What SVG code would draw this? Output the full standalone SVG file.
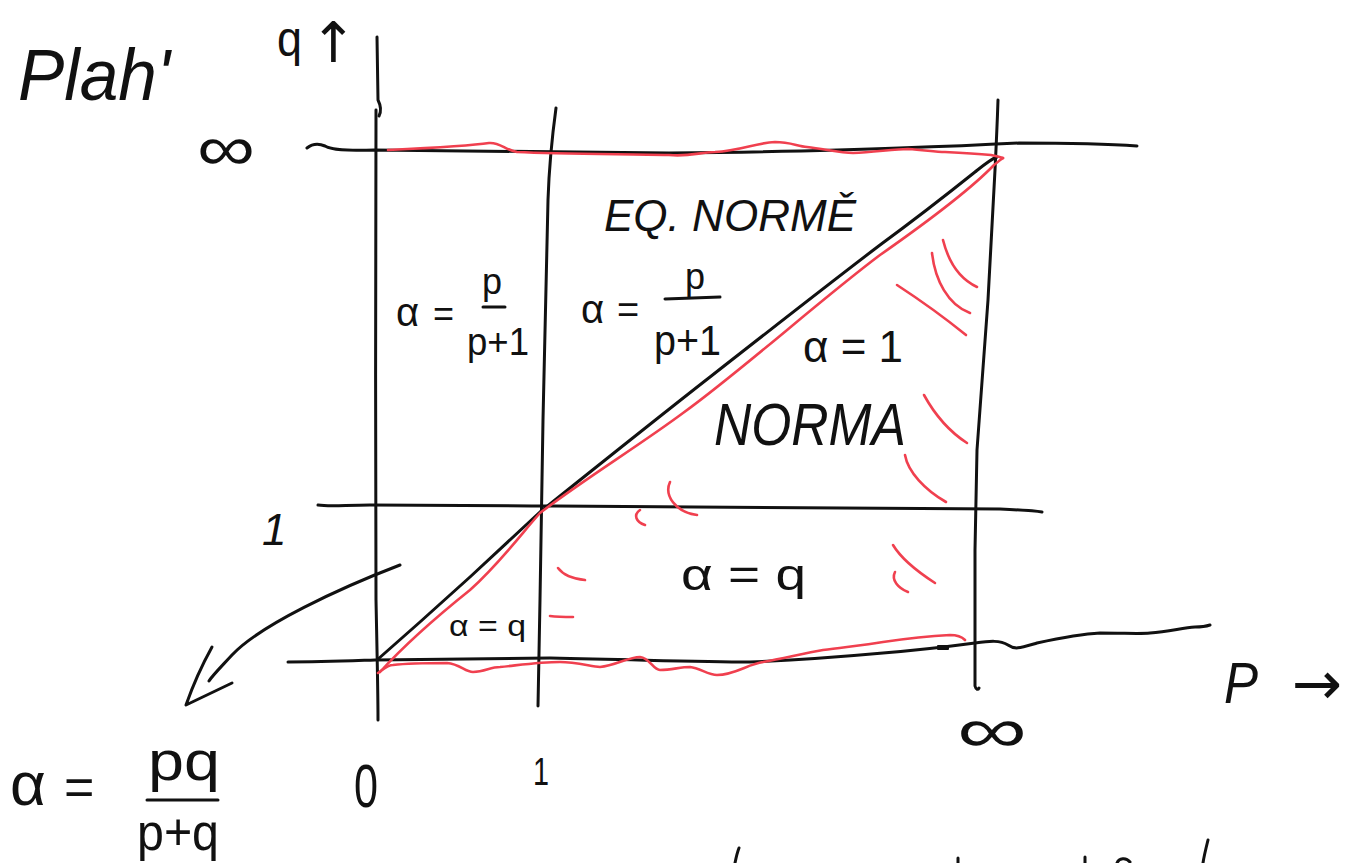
<svg xmlns="http://www.w3.org/2000/svg" width="1352" height="863" viewBox="0 0 1352 863">
<defs>
<style>
.ink{fill:none;stroke:#111;stroke-width:3;stroke-linecap:round;stroke-linejoin:round}
.red{fill:none;stroke:#f0404f;stroke-width:2.6;stroke-linecap:round;stroke-linejoin:round}
text{font-family:"Liberation Sans","DejaVu Sans",sans-serif;fill:#111}
.hw{font-style:italic}
.sym{font-family:"DejaVu Sans",sans-serif}
</style>
</defs>
<rect width="1352" height="863" fill="#fff"/>

<g id="grid">
  <path class="ink" d="M377,37 L378,100 C381,106 381,112 379,116"/>
  <path class="ink" d="M376,110 C376,250 375,450 376,600 C377,650 378,690 378,720"/>
  <path class="ink" d="M556,108 C553,130 549,170 548,200 L543,420 L540,600 L538,706"/>
  <path class="ink" d="M998,100 C997,130 996,150 995,170 L988,300 L977,450 L975,550 L975,686 C976,690 978,690 979,688"/>
  <path class="ink" d="M307,148 C312,144 318,143 325,146 C332,150 345,151 374,150 C500,151 600,153 669,153 C760,152 850,150 899,148 C960,146 1000,144 1019,143 C1060,143 1110,144 1137,146"/>
  <path class="ink" d="M318,505 C330,507 345,505 370,505 C450,505 500,506 555,506 C700,507 850,508 1000,509 C1020,510 1035,511 1042,512"/>
  <path class="ink" d="M288,662 C320,662 345,661 375,660 C450,659 500,659 550,658 C650,660 700,662 750,662 C800,660 850,656 883,653 C920,650 945,647 975,643 C990,641 1000,640 1008,645 C1015,650 1020,648 1037,643 C1060,638 1080,634 1100,633 C1125,633 1140,634 1150,633 C1170,631 1183,628 1195,627 C1203,627 1207,626 1210,625"/>
  <path class="ink" d="M938,646 L948,646 L948,649 L938,649 Z" style="stroke-width:2"/>
  <path class="ink" d="M377,660 L420,622 L470,577 L540,512 C600,464 660,416 710,377 C770,330 830,283 880,245 C925,212 955,188 975,172 C985,164 991,159 997,157"/>
</g>

<g id="red-region">
  <path class="red" d="M380,672 C400,650 430,622 470,590 C500,563 522,533 540,513 C580,482 640,445 683,413 C740,372 820,300 880,255 C930,220 970,190 994,165 C998,162 1001,159 1003,158"/>
  <path class="red" d="M388,150 C430,148 470,146 489,143 C500,142 505,150 517,152 C560,154 620,154 669,155 C690,157 700,152 715,152 C740,151 755,143 775,142 C790,142 797,146 807,147 C825,149 840,153 853,153 C875,152 895,149 908,149 C925,150 935,152 945,152 C965,153 980,154 991,155 C996,156 1000,157 1003,158"/>
  <path class="red" d="M378,673 C385,668 388,665 393,665 C410,663 430,663 447,663 C460,664 465,672 473,672 C485,672 490,667 500,667 C520,665 540,662 560,662 C575,662 590,666 600,667 C615,666 628,657 640,657 C650,658 653,670 660,670 C672,670 680,667 690,667 C700,668 708,675 717,675 C735,675 748,664 763,662 C785,658 805,653 823,650 C845,647 865,645 883,642 C910,638 930,636 950,635 C957,635 962,637 965,640"/>
  <path class="red" d="M943,240 C948,260 958,278 977,287"/>
  <path class="red" d="M932,253 C935,280 948,305 970,313"/>
  <path class="red" d="M897,285 C920,300 945,318 966,335"/>
  <path class="red" d="M924,395 C935,415 950,432 967,443"/>
  <path class="red" d="M905,455 C908,472 925,490 946,502"/>
  <path class="red" d="M670,482 C664,495 675,512 697,515"/>
  <path class="red" d="M640,510 C633,515 636,522 645,525"/>
  <path class="red" d="M893,545 C902,560 918,572 935,583"/>
  <path class="red" d="M895,572 C891,580 898,588 908,592"/>
  <path class="red" d="M558,568 C564,576 575,579 585,580"/>
  <path class="red" d="M550,616 C558,617 565,617 573,617"/>
</g>

<g id="connectors">
  <path class="ink" d="M400,565 C340,588 260,625 232,655 C220,668 212,676 209,681"/>
  <path class="ink" d="M212,647 C202,665 192,688 186,705 L232,683"/>
</g>

<g id="label-title"><text x="18" y="100" font-size="72" textLength="152" lengthAdjust="spacingAndGlyphs" class="hw">Plah'</text></g>
<g id="label-q-axis">
  <text x="277" y="56" font-size="50" textLength="25" lengthAdjust="spacingAndGlyphs">q</text>
  <text x="310" y="62" font-size="56" class="sym">↑</text>
</g>
<g id="label-inf-left"><text x="197" y="170" font-size="64" textLength="58" lengthAdjust="spacingAndGlyphs">∞</text></g>
<g id="label-one-left"><text x="262" y="545" font-size="44" class="hw">1</text></g>
<g id="label-zero"><text x="354" y="807" font-size="62" textLength="24" lengthAdjust="spacingAndGlyphs">0</text></g>
<g id="label-one-bottom"><text x="533" y="785" font-size="38" textLength="16" lengthAdjust="spacingAndGlyphs">1</text></g>
<g id="label-inf-bottom"><text x="957" y="752" font-size="64" textLength="70" lengthAdjust="spacingAndGlyphs">∞</text></g>
<g id="label-p-axis">
  <text x="1224" y="703" font-size="58" textLength="34" lengthAdjust="spacingAndGlyphs" class="hw">P</text>
  <text x="1292" y="704" font-size="60" class="sym">→</text>
</g>

<g id="formula-main">
  <text x="10" y="805" font-size="62">α</text>
  <text x="64" y="805" font-size="52">=</text>
  <text x="148" y="780" font-size="56" textLength="72" lengthAdjust="spacingAndGlyphs">pq</text>
  <path class="ink" d="M147,800 L218,800"/>
  <text x="137" y="850" font-size="52" textLength="82" lengthAdjust="spacingAndGlyphs">p+q</text>
</g>

<g id="label-eq-norme"><text x="604" y="231" font-size="44" textLength="252" lengthAdjust="spacingAndGlyphs" class="hw">EQ. NORMĚ</text></g>

<g id="formula-left-cell">
  <text x="396" y="326" font-size="40">α</text>
  <text x="433" y="326" font-size="36">=</text>
  <text x="482" y="294" font-size="36">p</text>
  <path class="ink" d="M483,307 L505,307"/>
  <text x="467" y="355" font-size="38" textLength="62" lengthAdjust="spacingAndGlyphs">p+1</text>
</g>

<g id="formula-mid-cell">
  <text x="581" y="323" font-size="40">α</text>
  <text x="617" y="323" font-size="38">=</text>
  <text x="685" y="289" font-size="36">p</text>
  <path class="ink" d="M665,299 L720,297"/>
  <text x="654" y="355" font-size="42" textLength="67" lengthAdjust="spacingAndGlyphs">p+1</text>
</g>

<g id="label-alpha-one"><text x="803" y="362" font-size="44" textLength="100" lengthAdjust="spacingAndGlyphs">α = 1</text></g>
<g id="label-norma"><text x="714" y="445" font-size="60" textLength="192" lengthAdjust="spacingAndGlyphs" class="hw">NORMA</text></g>
<g id="label-alpha-q"><text x="681" y="590" font-size="44" textLength="125" lengthAdjust="spacingAndGlyphs">α = q</text></g>
<g id="label-alpha-q-small"><text x="449" y="636" font-size="30" textLength="77" lengthAdjust="spacingAndGlyphs">α = q</text></g>

<g id="cutoff-marks">
  <path class="ink" d="M739,848 C737,853 736,858 735,863"/>
  <path class="ink" d="M958,858 L958,863"/>
  <path class="ink" d="M1085,857 L1085,863"/>
  <path class="ink" d="M1117,863 C1119,858 1126,857 1130,862"/>
  <path class="ink" d="M1208,840 C1206,848 1204,856 1203,863"/>
</g>
</svg>
